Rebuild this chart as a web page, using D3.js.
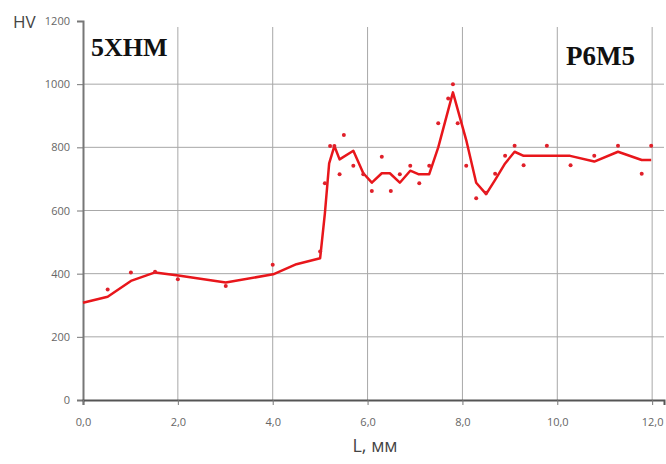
<!DOCTYPE html>
<html>
<head>
<meta charset="utf-8">
<script src="https://cdn.jsdelivr.net/npm/d3@7"></script>
<style>
  body { margin: 0; background: #fff; }
</style>
</head>
<body>
<div id="chart"></div>
<script>
// Smoothed hardness profile (line)
var lineL  = [0, 0.52, 1.01, 1.52, 2.01, 3.01, 4.01, 4.5, 5.0, 5.1, 5.19, 5.3, 5.41, 5.7, 5.91, 6.09, 6.3, 6.47, 6.68, 6.9, 7.07, 7.3, 7.49, 7.8, 8.08, 8.29, 8.5, 8.69, 8.9, 9.1, 9.29, 10.27, 10.78, 11.28, 11.78, 11.98];
var lineHV = [308, 327, 377, 404, 394, 372, 398, 430, 449, 591, 749, 804, 762, 789, 718, 688, 718, 718, 688, 726, 715, 715, 800, 974, 823, 688, 652, 697, 749, 786, 773, 773, 755, 786, 760, 760];

// Measured points
var ptL  = [0.52, 1.01, 1.52, 2.0, 3.01, 4.0, 5.0, 5.1, 5.21, 5.3, 5.41, 5.5, 5.7, 5.91, 6.09, 6.3, 6.49, 6.68, 6.9, 7.09, 7.3, 7.49, 7.7, 7.8, 7.9, 8.08, 8.29, 8.5, 8.69, 8.9, 9.1, 9.29, 9.78, 10.28, 10.78, 11.28, 11.78, 11.98];
var ptHV = [350, 404, 406, 382, 361, 428, 470, 686, 804, 804, 715, 839, 742, 715, 662, 770, 662, 715, 742, 686, 742, 876, 955, 1000, 876, 742, 639, 656, 716, 773, 805, 743, 805, 743, 773, 805, 716, 805];

var xTicks = [0, 2, 4, 6, 8, 10, 12];
var yTicks = [0, 200, 400, 600, 800, 1000, 1200];

var W = 666, H = 464;
var svg = d3.select('#chart').append('svg').attr('width', W).attr('height', H);
var FONT = '"Open Sans", "DejaVu Sans", sans-serif';
var SERIF = '"Liberation Serif", "DejaVu Serif", serif';

var x = d3.scaleLinear().domain([0, 12.25]).range([83, 664]);
var y = d3.scaleLinear().domain([0, 1200]).range([400, 21]);

// Grid
svg.append('g').selectAll('line').data(yTicks.filter(function(d) { return d > 0 && d < 1200; })).join('line')
  .attr('x1', x(0)).attr('x2', x(12.25))
  .attr('y1', function(d) { return y(d); }).attr('y2', function(d) { return y(d); })
  .attr('stroke', '#a8a8a8').attr('stroke-width', 1);
svg.append('g').selectAll('line').data(xTicks.filter(function(d) { return d > 0; })).join('line')
  .attr('x1', function(d) { return x(d); }).attr('x2', function(d) { return x(d); })
  .attr('y1', 27).attr('y2', y(0))
  .attr('stroke', '#a8a8a8').attr('stroke-width', 1);

// Y axis
svg.append('g').attr('transform', 'translate(' + x(0) + ',0)')
  .call(d3.axisLeft(y).tickValues(yTicks).tickSize(6).tickFormat(d3.format('d')))
  .call(function(g) { g.select('.domain').attr('stroke', '#777').attr('stroke-width', 2); })
  .call(function(g) { g.selectAll('.tick line').attr('stroke', '#777'); })
  .call(function(g) { g.selectAll('.tick text').attr('fill', '#666').attr('font-size', '11px').attr('font-family', FONT).attr('x', -13); });

// X axis
svg.append('g').attr('transform', 'translate(0,' + y(0) + ')')
  .call(d3.axisBottom(x).tickValues(xTicks).tickSize(5).tickFormat(function(d) { return d.toFixed(1).replace('.', ','); }))
  .call(function(g) { g.select('.domain').attr('stroke', '#555').attr('stroke-width', 2); })
  .call(function(g) { g.selectAll('.tick line').attr('stroke', '#777'); })
  .call(function(g) { g.selectAll('.tick text').attr('fill', '#666').attr('font-size', '11px').attr('font-family', FONT).attr('y', 18); });

// Axis titles
svg.append('text').attr('x', 13).attr('y', 28).attr('fill', '#444')
  .attr('font-size', '17px').attr('font-family', FONT).text('HV');
svg.append('text').attr('x', 375).attr('y', 452).attr('text-anchor', 'middle').attr('fill', '#444')
  .attr('font-size', '18px').attr('font-family', FONT).text('L, мм');

// Material labels
svg.append('text').attr('x', 91).attr('y', 56).attr('fill', '#111').attr('font-weight', 'bold')
  .attr('font-size', '26px').attr('font-family', SERIF).text('5XHM');
svg.append('text').attr('x', 566).attr('y', 65).attr('fill', '#111').attr('font-weight', 'bold')
  .attr('font-size', '27px').attr('font-family', SERIF).text('P6M5');

// Line
var line = d3.line().x(function(d, i) { return x(lineL[i]); }).y(function(d) { return y(d); });
svg.append('path').datum(lineHV).attr('d', line)
  .attr('fill', 'none').attr('stroke', '#e8161b').attr('stroke-width', 2.5).attr('stroke-linejoin', 'round');

// Points
svg.append('g').selectAll('circle').data(ptHV).join('circle')
  .attr('cx', function(d, i) { return x(ptL[i]); }).attr('cy', function(d) { return y(d); })
  .attr('r', 2).attr('fill', '#e0202a');
</script>
</body>
</html>
